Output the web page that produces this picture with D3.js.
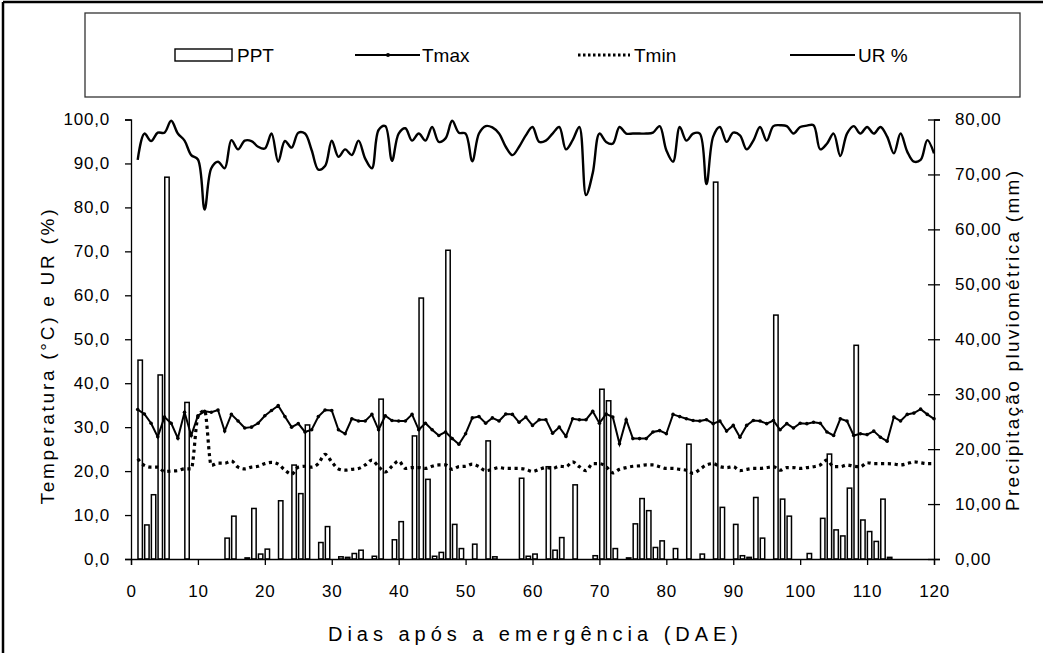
<!DOCTYPE html>
<html lang="pt">
<head>
<meta charset="utf-8">
<title>Clima DAE</title>
<script src="https://d3js.org/d3.v7.min.js"></script>
<style>
  body { margin: 0; background: #fff; }
  svg { font-family: "Liberation Sans", Arial, sans-serif; }
  .axis path, .axis line { stroke: #000; stroke-width: 1.3px; }
  .axis text { font-size: 17px; fill: #000; }
</style>
</head>
<body>
<div id="main"></div>
<script>
// precipitation (mm) per day after emergence
const pptDays = [1, 2, 3, 4, 5, 8, 14, 15, 17, 18, 19, 20, 22, 24, 25, 26, 28, 29, 31, 32, 33, 34, 36, 37, 39,
  40, 42, 43, 44, 45, 46, 47, 48, 49, 51, 53, 54, 58, 59, 60, 62, 63, 64, 66, 69, 70, 71, 72, 74, 75, 76, 77, 78, 79,
  81, 83, 85, 87, 88, 90, 91, 92, 93, 94, 96, 97, 98, 101, 103, 104, 105, 106, 107, 108, 109, 110, 111, 112, 113];
const pptMm = [36.2, 6.2, 11.7, 33.5, 69.5, 28.5, 3.8, 7.8, 0.2, 9.2, 0.9, 1.8, 10.6, 17.1, 11.9, 24.4, 3.0, 5.9, 0.4, 0.3, 1.0, 1.6, 0.5, 29.1, 3.5,
  6.8, 22.4, 47.5, 14.5, 0.5, 1.2, 56.2, 6.3, 1.9, 2.7, 21.5, 0.4, 14.7, 0.5, 0.9, 16.8, 1.6, 3.9, 13.5, 0.6, 30.9, 28.8, 1.9, 0.2, 6.4, 11.0, 8.8, 2.1, 3.3,
  1.9, 20.9, 0.9, 68.6, 9.4, 6.3, 0.6, 0.3, 11.2, 3.8, 44.4, 10.9, 7.8, 1.0, 7.4, 19.1, 5.3, 4.2, 12.9, 38.9, 7.1, 5.0, 3.2, 10.9, 0.3];

// daily series, days 1..120
const days = d3.range(1, 121);
const tmax = [34.0, 33.0, 30.9, 27.8, 32.3, 30.9, 27.5, 33.4, 28.1, 32.6, 33.6, 33.4, 33.9, 29.1, 32.9, 31.4, 29.8, 30.0, 30.9, 32.6,
  33.8, 34.9, 32.4, 30.0, 30.8, 28.9, 29.4, 32.4, 33.9, 33.8, 29.4, 28.5, 31.9, 31.4, 31.4, 32.9, 29.4, 32.6, 31.5, 31.4,
  31.4, 32.9, 29.4, 30.9, 29.4, 28.1, 28.9, 27.4, 26.1, 28.5, 32.1, 32.4, 30.9, 32.1, 31.4, 33.0, 32.9, 31.1, 32.3, 30.4,
  31.7, 31.7, 28.6, 30.0, 27.9, 31.9, 31.7, 31.7, 33.6, 30.9, 33.0, 32.3, 26.2, 31.7, 27.4, 27.4, 27.4, 28.9, 29.2, 28.5,
  32.9, 32.4, 31.9, 31.5, 31.4, 31.7, 30.8, 31.4, 29.1, 30.4, 27.7, 30.4, 31.5, 31.4, 30.8, 31.5, 29.4, 30.8, 29.8, 30.9,
  30.8, 31.1, 30.9, 28.9, 28.1, 31.9, 31.4, 28.1, 28.5, 28.3, 29.1, 27.7, 26.8, 32.3, 31.4, 32.9, 33.2, 34.1, 32.9, 31.9];
const tmin = [22.8, 21.3, 20.9, 20.9, 19.9, 20.0, 20.1, 20.5, 20.5, 32.3, 33.8, 21.3, 21.8, 21.8, 22.3, 20.9, 20.5, 20.9, 21.1, 21.7,
  22.0, 21.6, 20.2, 19.3, 20.9, 21.1, 20.9, 21.7, 23.8, 22.1, 20.5, 20.2, 20.4, 20.6, 21.4, 22.5, 21.0, 19.8, 21.1, 22.3,
  20.6, 20.8, 20.8, 20.6, 21.1, 21.4, 21.4, 20.4, 21.0, 21.1, 21.6, 21.0, 20.1, 20.4, 20.8, 20.6, 20.6, 20.6, 20.4, 19.9,
  20.4, 20.8, 20.6, 21.1, 21.0, 22.1, 21.0, 20.1, 21.7, 21.7, 21.0, 19.6, 20.4, 20.8, 21.1, 21.2, 21.4, 21.4, 21.0, 20.6,
  20.6, 20.4, 20.2, 19.5, 20.4, 21.4, 21.7, 21.0, 20.8, 21.0, 20.1, 20.4, 20.6, 20.6, 20.8, 21.0, 20.2, 20.8, 20.8, 20.6,
  20.8, 21.0, 21.4, 22.5, 21.0, 21.0, 21.4, 21.1, 21.0, 21.9, 21.7, 21.7, 21.7, 21.6, 21.4, 21.7, 22.1, 21.9, 21.7, 21.7];
const ur = [90.8, 96.8, 95.1, 97.0, 97.0, 99.7, 96.8, 95.2, 91.9, 90.9, 79.5, 88.9, 90.4, 88.9, 95.3, 93.2, 95.2, 95.1, 93.8, 93.4,
  96.8, 90.4, 95.1, 93.6, 97.0, 96.8, 93.0, 88.6, 89.4, 95.2, 91.5, 93.2, 91.9, 95.2, 91.1, 88.9, 97.6, 98.5, 90.6, 96.8,
  98.0, 95.2, 96.8, 95.2, 98.3, 94.9, 95.7, 99.7, 97.0, 96.8, 90.5, 96.8, 98.5, 98.2, 96.8, 93.8, 91.9, 93.8, 96.4, 98.3,
  94.9, 95.2, 96.8, 98.3, 93.2, 95.3, 98.3, 82.8, 87.8, 96.8, 94.9, 94.5, 98.3, 96.8, 96.8, 96.8, 96.8, 97.0, 98.5, 93.0,
  90.4, 98.3, 95.2, 96.8, 96.8, 85.3, 96.1, 98.3, 94.9, 97.0, 96.4, 93.2, 95.2, 98.3, 95.2, 98.5, 98.7, 98.5, 96.8, 98.3,
  98.6, 98.7, 93.2, 94.5, 96.8, 91.7, 96.8, 98.5, 96.8, 98.3, 96.8, 98.3, 96.1, 92.3, 96.8, 92.7, 90.4, 90.8, 95.3, 92.3];

const leftTicks = d3.range(0, 101, 10);
const rightTicks = d3.range(0, 81, 10);
const xTicks = d3.range(0, 121, 10);
const legendNames = ['PPT', 'Tmax', 'Tmin', 'UR %'];

const width = 1043, height = 653;
const plot = { left: 131, right: 934, top: 119.5, bottom: 559 };

const svg = d3.select('#main').append('svg')
  .attr('width', width)
  .attr('height', height);

// outer frame lines (top and left)
svg.append('line').attr('x1', 3).attr('x2', width).attr('y1', 2).attr('y2', 2)
  .attr('stroke', '#000').attr('stroke-width', 2.5);
svg.append('line').attr('x1', 3).attr('x2', 3).attr('y1', 2).attr('y2', height)
  .attr('stroke', '#000').attr('stroke-width', 2.5);

const x = d3.scaleLinear().domain([0, 120]).range([plot.left, plot.right]);
const yL = d3.scaleLinear().domain([0, 100]).range([plot.bottom, plot.top]);
const yR = d3.scaleLinear().domain([0, 80]).range([plot.bottom, plot.top]);

const comma = fmt => v => d3.format(fmt)(v).replace('.', ',');

// bars
const barW = 4.4;
svg.append('g').selectAll('rect')
  .data(pptDays.map((d, i) => ({ day: d, mm: pptMm[i] })))
  .join('rect')
  .attr('x', d => x(d.day) + 0.3)
  .attr('y', d => yR(d.mm))
  .attr('width', barW)
  .attr('height', d => plot.bottom - yR(d.mm))
  .attr('fill', '#fff')
  .attr('stroke', '#000')
  .attr('stroke-width', 1.5);

// lines
const lineOf = (vals, curve) => d3.line()
  .x((d, i) => x(days[i]))
  .y(d => yL(d))
  .curve(curve)(vals);

svg.append('path')
  .attr('d', lineOf(tmin, d3.curveMonotoneX))
  .attr('fill', 'none').attr('stroke', '#000')
  .attr('stroke-width', 3.2).attr('stroke-dasharray', '3.2,3.6');

svg.append('path')
  .attr('d', lineOf(tmax, d3.curveLinear))
  .attr('fill', 'none').attr('stroke', '#000').attr('stroke-width', 2);
svg.append('g').selectAll('circle')
  .data(tmax)
  .join('circle')
  .attr('cx', (d, i) => x(days[i]))
  .attr('cy', d => yL(d))
  .attr('r', 1.8)
  .attr('fill', '#000');

svg.append('path')
  .attr('d', lineOf(ur, d3.curveCatmullRom.alpha(0.5)))
  .attr('fill', 'none').attr('stroke', '#000').attr('stroke-width', 2.4);

// axes
svg.append('g').attr('class', 'axis')
  .attr('transform', `translate(${plot.left},0)`)
  .call(d3.axisLeft(yL).tickValues(leftTicks).tickSize(6).tickPadding(15).tickFormat(comma('.1f')));

const rAxis = svg.append('g').attr('class', 'axis')
  .attr('transform', `translate(${plot.right},0)`)
  .call(d3.axisRight(yR).tickValues(rightTicks).tickSize(6).tickPadding(15).tickFormat(comma('.2f')));
rAxis.selectAll('.tick line').attr('x1', -6);

svg.append('g').attr('class', 'axis')
  .attr('transform', `translate(0,${plot.bottom})`)
  .call(d3.axisBottom(x).tickValues(xTicks).tickSize(6).tickPadding(20).tickFormat(d3.format('d')));

svg.selectAll('.axis text').attr('letter-spacing', '0.8px');

// titles
svg.append('text')
  .attr('transform', `translate(54,357) rotate(-90)`)
  .attr('text-anchor', 'middle')
  .attr('font-size', 19)
  .attr('textLength', 295)
  .attr('lengthAdjust', 'spacing')
  .text('Temperatura (°C) e UR (%)');

svg.append('text')
  .attr('transform', `translate(1019,341) rotate(-90)`)
  .attr('text-anchor', 'middle')
  .attr('font-size', 19)
  .attr('textLength', 340)
  .attr('lengthAdjust', 'spacing')
  .text('Precipitação pluviométrica (mm)');

svg.append('text')
  .attr('x', 533)
  .attr('y', 641)
  .attr('text-anchor', 'middle')
  .attr('font-size', 20)
  .attr('textLength', 410)
  .attr('lengthAdjust', 'spacing')
  .text('Dias após a emergência (DAE)');

// legend
svg.append('rect')
  .attr('x', 85).attr('y', 13).attr('width', 935).attr('height', 84)
  .attr('fill', '#fff').attr('stroke', '#333').attr('stroke-width', 1.3);

const legendY = 55;
const legendX = [175, 355, 578, 790];
const lg = svg.append('g');
lg.append('rect').attr('x', legendX[0]).attr('y', legendY - 6).attr('width', 57).attr('height', 12)
  .attr('fill', '#fff').attr('stroke', '#000').attr('stroke-width', 1.4);
lg.append('line').attr('x1', legendX[1]).attr('x2', legendX[1] + 65).attr('y1', legendY).attr('y2', legendY)
  .attr('stroke', '#000').attr('stroke-width', 2);
lg.append('circle').attr('cx', legendX[1] + 33).attr('cy', legendY).attr('r', 2).attr('fill', '#000');
lg.append('line').attr('x1', legendX[2]).attr('x2', legendX[2] + 52).attr('y1', legendY).attr('y2', legendY)
  .attr('stroke', '#000').attr('stroke-width', 3).attr('stroke-dasharray', '2.5,2.5');
lg.append('line').attr('x1', legendX[3]).attr('x2', legendX[3] + 65).attr('y1', legendY).attr('y2', legendY)
  .attr('stroke', '#000').attr('stroke-width', 2);

const textX = [237, 422, 634, 858];
lg.selectAll('text')
  .data(legendNames)
  .join('text')
  .attr('x', (d, i) => textX[i])
  .attr('y', legendY + 7)
  .attr('font-size', 19)
  .text(d => d);
</script>
</body>
</html>
